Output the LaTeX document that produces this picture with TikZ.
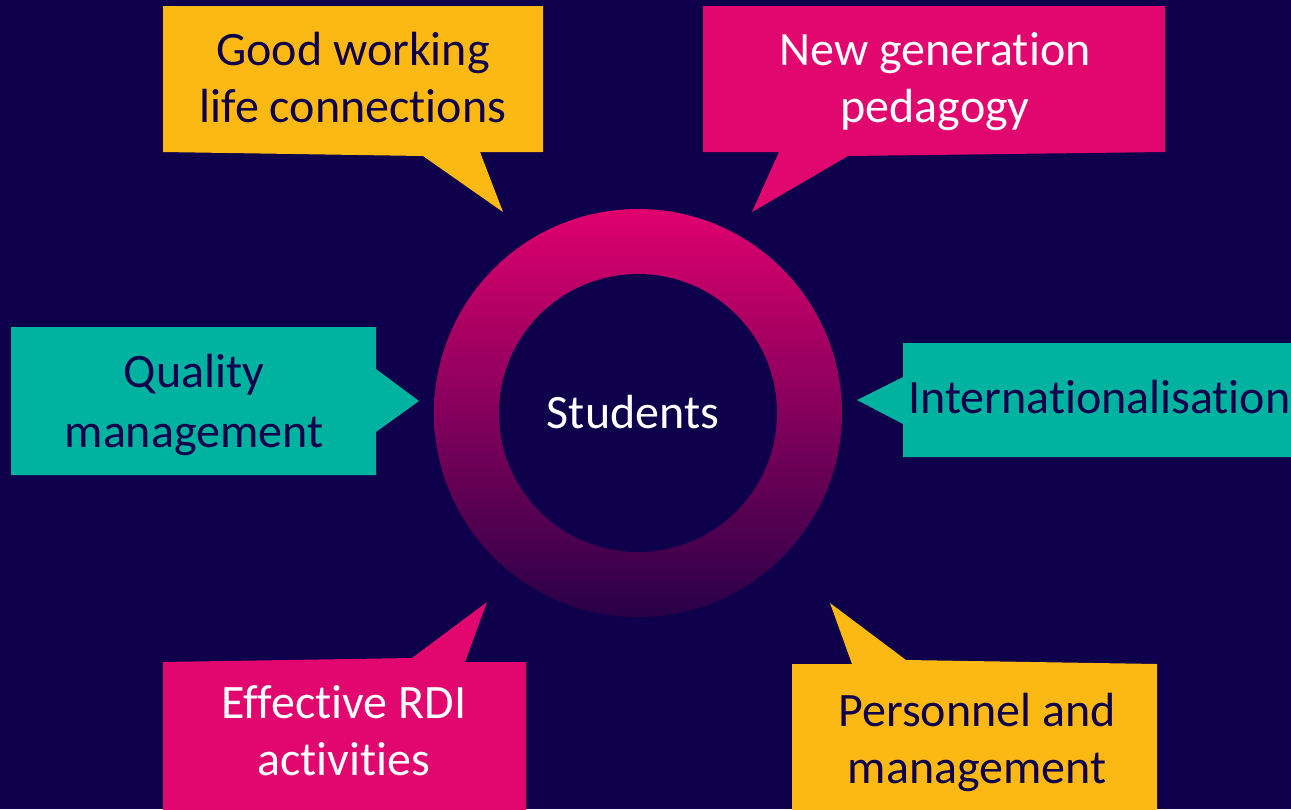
\documentclass[tikz,border=0pt]{standalone}
\usepackage{fontspec}
\setmainfont{Carlito}[Ligatures={NoCommon}]
\definecolor{bg}{RGB}{14,0,74}
\definecolor{cyellow}{RGB}{253,185,19}
\definecolor{cpink}{RGB}{226,7,111}
\definecolor{cteal}{RGB}{0,178,160}
\definecolor{ringtop}{RGB}{224,0,110}
\definecolor{ringmid}{RGB}{176,0,96}
\definecolor{ringbot}{RGB}{40,0,72}
\begin{document}
\begin{tikzpicture}[x=1pt,y=-1pt,
  lbl/.style={font=\fontsize{48}{57}\selectfont, align=center, inner sep=0pt},
  widelbl/.style={lbl, font=\fontsize{48}{60}\selectfont},
  darktext/.style={text=bg},
  lighttext/.style={text=white}]
\fill[bg] (0,0) rectangle (1291,809);
\useasboundingbox (0,0) rectangle (1291,809);
% ring
\coordinate (c) at (638,413);
\shade[top color=ringtop, middle color=ringmid, bottom color=ringbot] (c) circle[radius=204pt];
\fill[bg] (c) circle[radius=139pt];
\node[lbl, lighttext, anchor=base] (students) at (633,428) {Students};
% callouts
\fill[cyellow] (163,6) -- (543,6) -- (543,152) -- (480,152) -- (503,212) -- (423,156) -- (163,152) -- cycle;
\node[lbl, darktext, anchor=base] (work) at (353,122) {Good working\\life connections};
\fill[cpink] (703,6) -- (1165,6) -- (1165,152) -- (848,156) -- (752,212) -- (779,152) -- (703,152) -- cycle;
\node[lbl, lighttext, anchor=base] (peda) at (935,122) {New generation\\pedagogy};
\fill[cteal] (11,327) -- (376,327) -- (376,369) -- (419,401) -- (376,432) -- (376,475) -- (11,475) -- cycle;
\node[widelbl, darktext, anchor=base] (quality) at (194,447) {Quality\\management};
\fill[cteal] (903,343) -- (1295,343) -- (1295,457) -- (903,457) -- (903,424) -- (857,400) -- (903,377) -- cycle;
\node[lbl, darktext, anchor=base west] (inter) at (908,413) {Internationalisation};
\fill[cpink] (163,662) -- (412,658) -- (487,602) -- (465,662) -- (526,662) -- (526,815) -- (163,815) -- cycle;
\node[lbl, lighttext, anchor=base] (rdi) at (344,775) {Effective RDI\\activities};
\fill[cyellow] (792,664) -- (852,664) -- (830,603) -- (906,660) -- (1157,664) -- (1157,815) -- (792,815) -- cycle;
\node[lbl, darktext, anchor=base] (pers) at (977,783) {Personnel and\\management};
\end{tikzpicture}
\end{document}
